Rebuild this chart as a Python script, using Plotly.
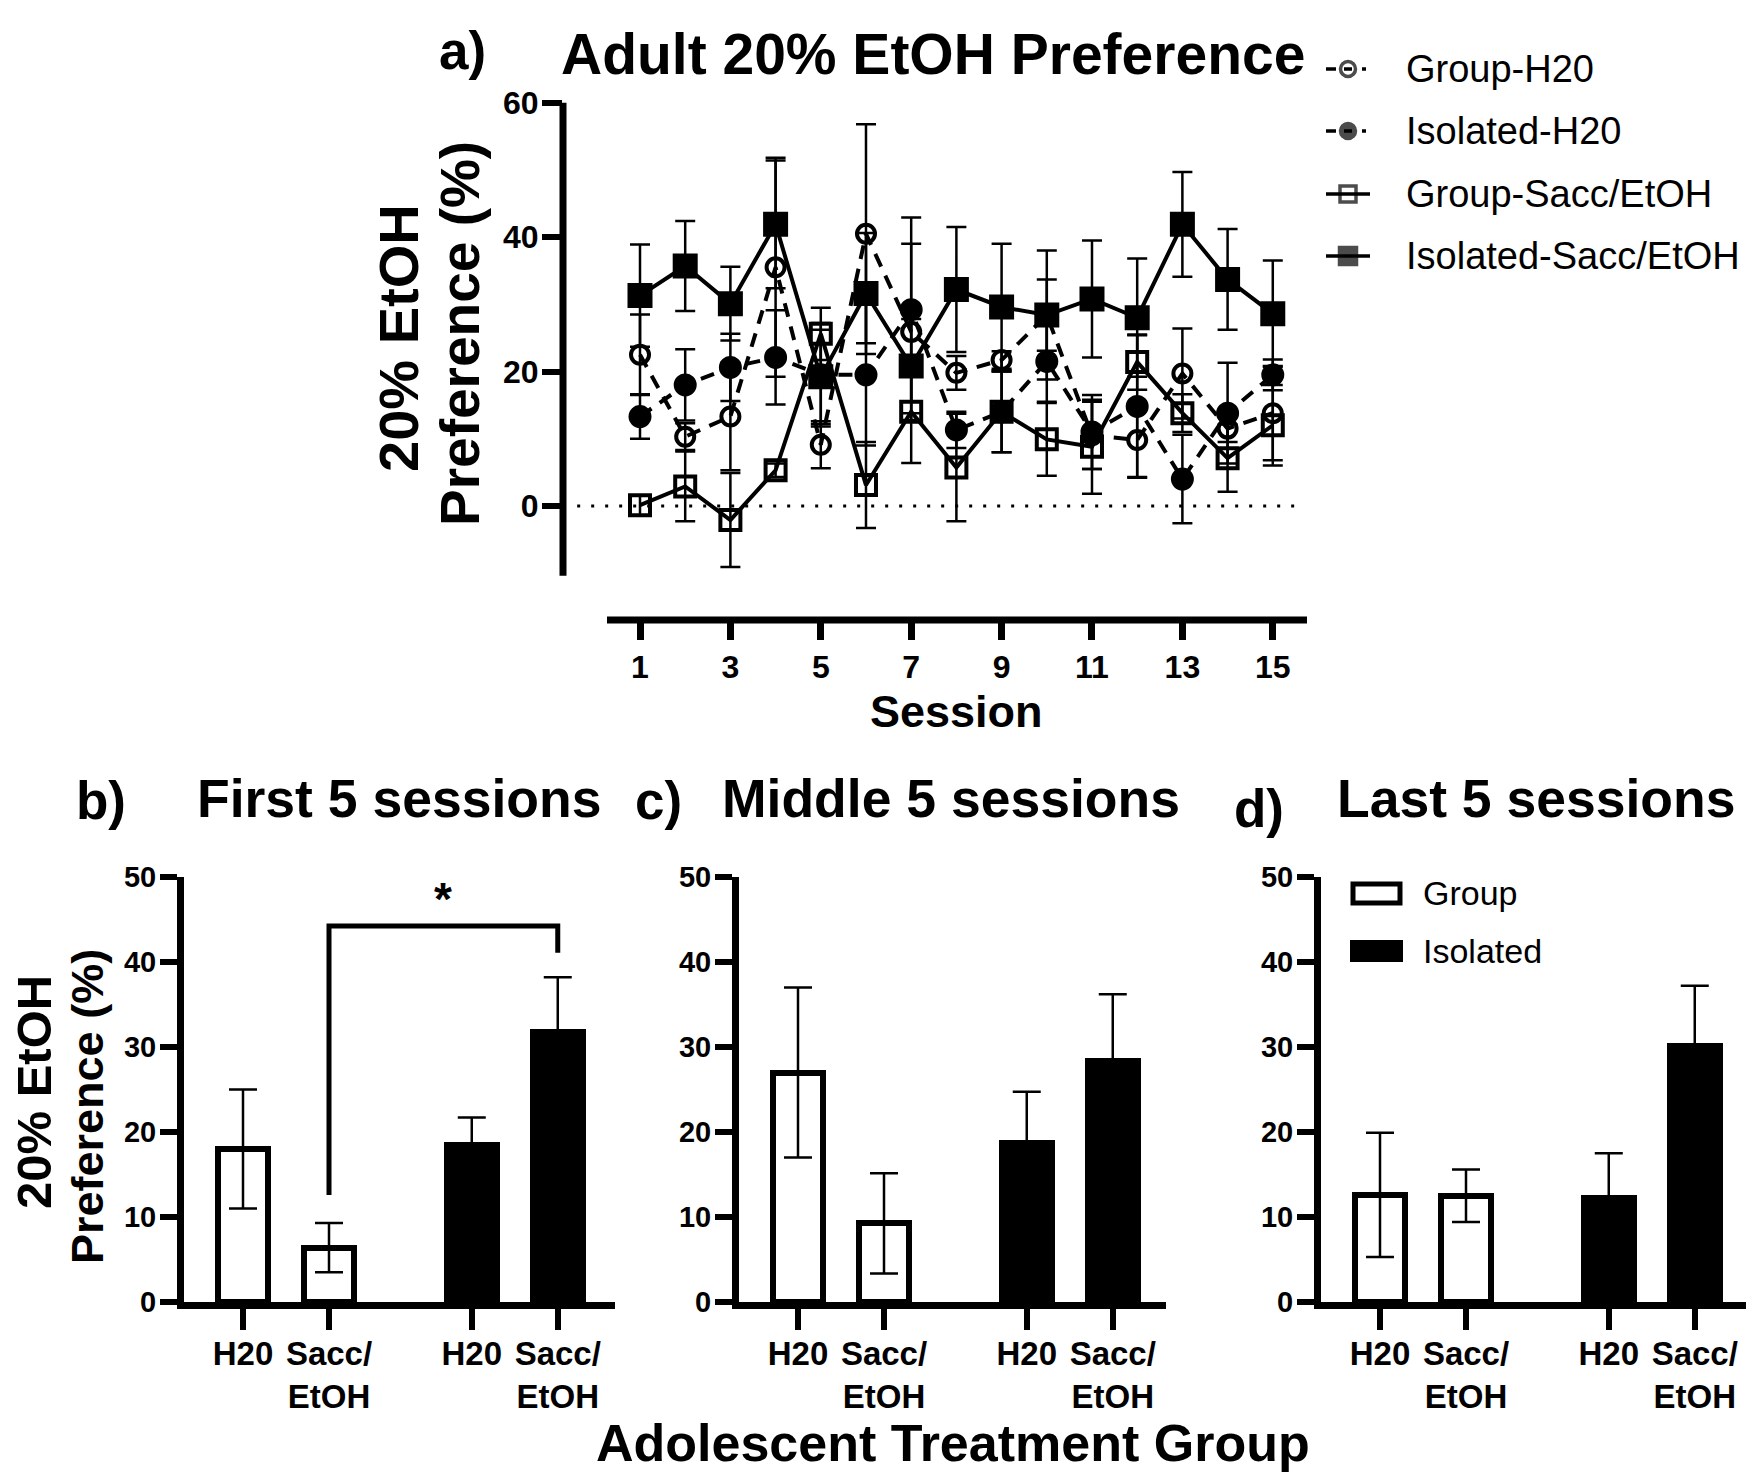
import plotly.graph_objects as go

# target picture size and the browser's default body margin
W, H = 1754, 1472
O = 8

# ---------------- data ----------------
sessions = list(range(1, 16))
group_h20 = [22.5, 10.3, 13.3, 35.5, 9.1, 40.5, 25.9, 19.8, 21.7, 28.4, 10.5, 9.8, 19.7, 11.5, 13.8]
group_h20_sem = [6.0, 2.0, 8.0, 16.3, 3.5, 16.3, 13.1, 2.5, 1.3, 5.3, 5.0, 5.5, 6.7, 2.0, 7.0]
isolated_h20 = [13.3, 18.0, 20.6, 22.1, 19.5, 19.5, 29.2, 11.3, 14.0, 21.5, 11.0, 14.8, 4.0, 13.8, 19.5]
isolated_h20_sem = [3.3, 5.3, 5.0, 7.0, 7.7, 10.5, 13.7, 2.7, 6.0, 6.0, 5.5, 10.6, 6.6, 7.5, 2.3]
group_sacc = [0.1, 2.9, -2.1, 5.3, 25.6, 3.1, 14.0, 5.7, 14.0, 9.9, 8.8, 21.4, 13.8, 7.1, 12.0]
group_sacc_sem = [1.5, 5.2, 7.0, 1.0, 3.9, 6.4, 7.6, 8.0, 6.0, 5.4, 7.0, 4.1, 2.8, 5.0, 6.0]
isolated_sacc = [31.3, 35.7, 30.1, 41.9, 19.2, 31.6, 20.8, 32.2, 29.6, 28.4, 30.8, 28.0, 41.9, 33.7, 28.6]
isolated_sacc_sem = [7.6, 6.7, 5.5, 9.5, 7.0, 9.0, 7.0, 9.3, 9.4, 9.6, 8.7, 8.8, 7.8, 7.5, 7.9]

session_ticks = [1, 3, 5, 7, 9, 11, 13, 15]
y_ticks_top = [0, 20, 40, 60]

bar_labels = ["H20", "Sacc/<br>EtOH", "H20", "Sacc/<br>EtOH"]
first5_group = [18.0, 6.4]
first5_group_sem = [7.0, 2.9]
first5_iso = [18.5, 31.8]
first5_iso_sem = [3.2, 6.4]
middle5_group = [27.0, 9.25]
middle5_group_sem = [10.0, 5.9]
middle5_iso = [18.75, 28.4]
middle5_iso_sem = [6.0, 7.8]
last5_group = [12.6, 12.5]
last5_group_sem = [7.3, 3.1]
last5_iso = [12.2, 30.1]
last5_iso_sem = [5.3, 7.1]

bracket_y = [12.6, 44.25, 44.25, 41.1]
star_y = 47.4
y_ticks_bottom = [0, 10, 20, 30, 40, 50]

# ---------------- layout helpers ----------------
FONT = "Liberation Sans, Arial, sans-serif"
BAR_POS = [1, 2, 3.66, 4.66]
FW, FH = W - O, H - O


def px(p):
    return (p - O) / FW


def py(p):
    return 1 - (p - O) / FH


fig = go.Figure()

# ---------------- top line chart ----------------
err_style = dict(type="data", thickness=2.5, width=10, color="black")
series = [
    ("Group-H20", group_h20, group_h20_sem, "circle-open", 18, "14px,10px"),
    ("Isolated-H20", isolated_h20, isolated_h20_sem, "circle", 19, "14px,10px"),
    ("Group-Sacc/EtOH", group_sacc, group_sacc_sem, "square-open", 20, "solid"),
    ("Isolated-Sacc/EtOH", isolated_sacc, isolated_sacc_sem, "square", 21, "solid"),
]
for name, vals, sem, sym, size, dash in series:
    fig.add_trace(go.Scatter(
        x=sessions, y=vals, name=name, mode="lines+markers",
        line=dict(color="black", width=4, dash=dash),
        marker=dict(symbol=sym, size=size, color="black",
                    line=dict(color="black", width=4)),
        error_y=dict(array=sem, **err_style),
        xaxis="x", yaxis="y", showlegend=False, cliponaxis=False,
    ))

# ---------------- bottom bar charts ----------------
panels = [
    (first5_group, first5_group_sem, first5_iso, first5_iso_sem, "2"),
    (middle5_group, middle5_group_sem, middle5_iso, middle5_iso_sem, "3"),
    (last5_group, last5_group_sem, last5_iso, last5_iso_sem, "4"),
]
bar_err = dict(type="data", thickness=2.5, width=14, color="black")
for g, gs, iso, isos, k in panels:
    fig.add_trace(go.Bar(
        x=BAR_POS[:2], y=g, width=0.58, name="Group",
        marker=dict(color="white", line=dict(color="black", width=6)),
        error_y=dict(array=gs, **bar_err),
        xaxis="x" + k, yaxis="y" + k, showlegend=False,
    ))
    fig.add_trace(go.Bar(
        x=BAR_POS[2:], y=iso, width=0.58, name="Isolated",
        marker=dict(color="black", line=dict(color="black", width=6)),
        error_y=dict(array=isos, **bar_err),
        xaxis="x" + k, yaxis="y" + k, showlegend=False,
    ))

# significance bracket (panel b)
fig.add_trace(go.Scatter(
    x=[BAR_POS[1], BAR_POS[1], BAR_POS[3], BAR_POS[3]], y=bracket_y,
    mode="lines", line=dict(color="black", width=5),
    xaxis="x2", yaxis="y2", showlegend=False, cliponaxis=False,
))

# ---------------- custom legends on a pixel overlay axis ----------------
leg_y = [69, 131, 194, 256]
leg_names = ["Group-H20", "Isolated-H20", "Group-Sacc/EtOH", "Isolated-Sacc/EtOH"]
leg_sym = ["circle-open", "circle", "square-open", "square"]
leg_size = [15, 15, 16, 17]
leg_dash = ["10px,8px,8px,10px,4px,100px", "10px,8px,8px,10px,4px,100px", "solid", "solid"]
for yy, sym, sz, dash in zip(leg_y, leg_sym, leg_size, leg_dash):
    fig.add_trace(go.Scatter(
        x=[1326, 1348, 1370], y=[yy, yy, yy], mode="lines+markers",
        line=dict(color="black", width=3.5, dash=dash),
        marker=dict(symbol=sym, size=[0, sz, 0], color="black",
                    line=dict(color="black", width=3.5)),
        xaxis="x5", yaxis="y5", showlegend=False, cliponaxis=False,
    ))

annotations = []
for yy, nm in zip(leg_y, leg_names):
    annotations.append(dict(x=1404, y=yy, xref="x5", yref="y5", text=nm,
                            showarrow=False, xanchor="left", yanchor="middle",
                            font=dict(family=FONT, size=38, color="black")))

shapes = []
# bar legend boxes
shapes.append(dict(type="rect", xref="x5", yref="y5", x0=1353, x1=1400, y0=884, y1=903,
                   fillcolor="white", line=dict(color="black", width=5)))
shapes.append(dict(type="rect", xref="x5", yref="y5", x0=1350, x1=1403, y0=940, y1=962,
                   fillcolor="black", line=dict(color="black", width=0)))
for yy, nm in zip([893, 951], ["Group", "Isolated"]):
    annotations.append(dict(x=1421, y=yy, xref="x5", yref="y5", text=nm,
                            showarrow=False, xanchor="left", yanchor="middle",
                            font=dict(family=FONT, size=34, color="black")))

# top axis lines (Prism-style offset axes)
shapes.append(dict(type="line", xref="paper", yref="y", x0=px(563), x1=px(563), y0=-10.4, y1=60.45,
                   line=dict(color="black", width=7)))
shapes.append(dict(type="line", xref="x", yref="paper", x0=0.27, x1=15.76, y0=py(620), y1=py(620),
                   line=dict(color="black", width=7)))
# dotted zero line
shapes.append(dict(type="line", xref="x", yref="y", x0=-0.39, x1=15.65, y0=0, y1=0,
                   line=dict(color="black", width=3, dash="3px,11px"), layer="below"))

# star
annotations.append(dict(x=(BAR_POS[1] + BAR_POS[3]) / 2, y=star_y, xref="x2", yref="y2", text="<b>*</b>",
                        showarrow=False, font=dict(family=FONT, size=46, color="black")))


def txt(x, y, text, size, bold=True, angle=0):
    annotations.append(dict(x=x, y=y, xref="x5", yref="y5",
                            text=("<b>%s</b>" % text) if bold else text,
                            showarrow=False, xanchor="center", yanchor="middle", textangle=angle,
                            font=dict(family=FONT, size=size, color="black")))


txt(462, 50, "a)", 53)
txt(933, 54, "Adult 20% EtOH Preference", 57)
txt(398, 338, "20% EtOH", 56, angle=-90)
txt(460, 334, "Preference (%)", 55, angle=-90)
txt(956, 711, "Session", 45)
txt(101, 800, "b)", 53)
txt(399, 798, "First 5 sessions", 53.5)
txt(658, 800, "c)", 53)
txt(951, 798, "Middle 5 sessions", 53.5)
txt(1259, 808, "d)", 53)
txt(1536, 798, "Last 5 sessions", 53.5)
txt(34, 1092, "20% EtOH", 49, angle=-90)
txt(87, 1107, "Preference (%)", 45, angle=-90)
txt(953, 1443, "Adolescent Treatment Group", 52)

# ---------------- axes ----------------
tickfont_top = dict(family=FONT, size=32, color="black", weight="bold")
tickfont_bot = dict(family=FONT, size=29, color="black", weight="bold")
tickfont_cat = dict(family=FONT, size=33, color="black", weight="bold")

layout = dict(
    template="none",
    width=FW, height=FH, margin=dict(l=0, r=0, t=0, b=0, autoexpand=False),
    paper_bgcolor="white", plot_bgcolor="rgba(0,0,0,0)",
    showlegend=False, bargap=0,
    annotations=annotations, shapes=shapes,
    xaxis=dict(domain=[px(563), px(1307)], range=[-0.7035, 15.757], tickvals=session_ticks,
               ticks="outside", ticklen=19, tickwidth=7, tickcolor="black",
               showline=False, showgrid=False, zeroline=False, tickfont=tickfont_top,
               anchor="y", automargin=False),
    yaxis=dict(domain=[py(620), py(102.7)], range=[-16.98, 60], tickvals=y_ticks_top,
               ticks="outside", ticklen=20, tickwidth=6, tickcolor="black",
               showline=False, showgrid=False, zeroline=False, tickfont=tickfont_top,
               anchor="x", automargin=False, ticklabelstandoff=-3),
    xaxis5=dict(domain=[0, 1], range=[O, W], visible=False, anchor="y5", fixedrange=True,
                automargin=False),
    yaxis5=dict(domain=[0, 1], range=[H, O], visible=False, anchor="x5", fixedrange=True,
                automargin=False),
)

bottom_domains = {"2": (184, 615), "3": (739, 1166), "4": (1321, 1751)}
for k, (a, b) in bottom_domains.items():
    start = 1 - 59 / 86
    end = start + (b - a) / 86
    layout["xaxis" + k] = dict(domain=[px(a), min(px(b), 1)], range=[start, end], tickvals=BAR_POS,
                               ticktext=bar_labels, ticks="outside", ticklen=21, tickwidth=6,
                               tickcolor="black", showline=True, linewidth=7, linecolor="black",
                               showgrid=False, zeroline=False, tickfont=tickfont_cat,
                               anchor="y" + k, tickangle=0, automargin=False,
                               ticklabelstandoff=-5)
    layout["yaxis" + k] = dict(domain=[py(1302), py(877)], range=[0, 50], tickvals=y_ticks_bottom,
                               ticks="outside", ticklen=17, tickwidth=6, tickcolor="black",
                               showline=True, linewidth=7, linecolor="black",
                               showgrid=False, zeroline=False, tickfont=tickfont_bot,
                               anchor="x" + k, automargin=False, ticklabelstandoff=-2)

fig.update_layout(**layout)
fig.write_html("out.html")
